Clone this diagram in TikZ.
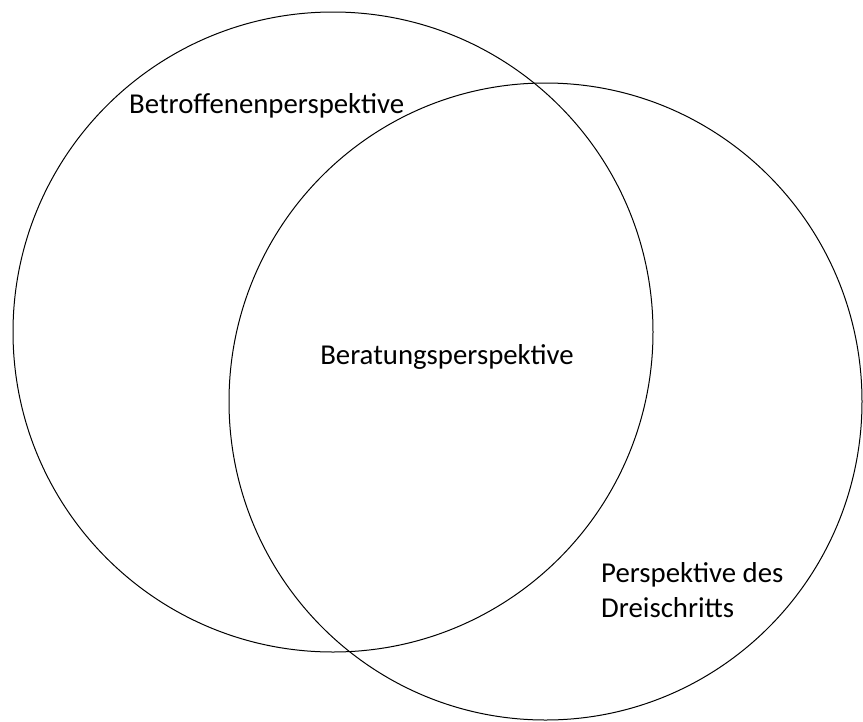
\documentclass[tikz,border=0pt]{standalone}
\usepackage{fontspec}
\setmainfont{Carlito}
\begin{document}
\begin{tikzpicture}[x=1pt,y=-1pt,
  ring/.style={draw=black,line width=1pt},
  lbl/.style={inner sep=0pt,font=\fontsize{28.8}{35}\selectfont}]
\useasboundingbox (0,0) rectangle (863,721);
\draw[ring] (333,332) ellipse [x radius=320,y radius=320];
\draw[ring] (545.5,401.5) ellipse [x radius=316.5,y radius=318.5];
\node[lbl,anchor=base west] (a) at (129,113) {Betroffenenperspektive};
\node[lbl,anchor=base] (b) at (447,364) {Beratungsperspektive};
\node[lbl,anchor=base west] (c) at (601,582) {Perspektive des};
\node[lbl,anchor=base west] (d) at (601,617) {Dreischritts};
\end{tikzpicture}
\end{document}
